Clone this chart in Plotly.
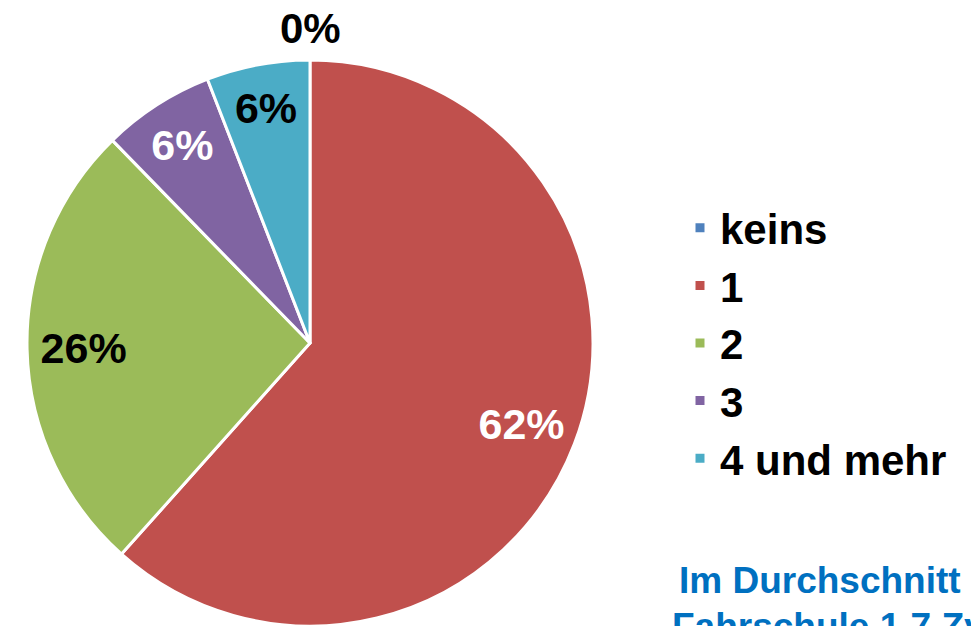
import plotly.graph_objects as go

categories = ["keins", "1", "2", "3", "4 und mehr"]
values = [0, 61.6, 26.1, 6.4, 5.9]
colors = ["#4F81BD", "#C0504D", "#9BBB59", "#8064A2", "#4BACC6"]
text_colors = ["black", "white", "black", "white", "black"]
note_line1 = "Im Durchschnitt"
note_line2 = "Fahrschule 1,7 Zyklen"

W, H = 971, 626
cx, cy, r = 310, 343, 283
dom = dict(x=[(cx - r) / W, (cx + r) / W], y=[0, 2 * r / H])
FONT = "Liberation Sans"

# main pie (slices + legend)
fig = go.Figure(go.Pie(
    labels=categories,
    values=values,
    sort=False,
    direction="clockwise",
    rotation=0,
    marker=dict(colors=colors, line=dict(color="white", width=3)),
    textinfo="none",
    domain=dom,
    hoverinfo="label+percent",
))

# transparent ring overlay that carries the percentage labels further out
fig.add_trace(go.Pie(
    labels=categories,
    values=values,
    sort=False,
    direction="clockwise",
    rotation=0,
    hole=0.6,
    marker=dict(colors=["rgba(0,0,0,0)"] * len(values), line=dict(width=0)),
    texttemplate=["" if v == 0 else "%{percent:.0%}" for v in values],
    textposition="inside",
    insidetextorientation="horizontal",
    textfont=dict(family=FONT, size=43, color=text_colors, weight="bold"),
    domain=dom,
    showlegend=False,
    hoverinfo="skip",
))

total = sum(values)
zero_label = f"{round(values[0] / total * 100)}%"

fig.update_layout(
    width=W, height=H,
    margin=dict(l=0, r=0, t=0, b=0),
    paper_bgcolor="white",
    plot_bgcolor="white",
    font=dict(family=FONT, color="black"),
    uniformtext=dict(minsize=43, mode="show"),
    legend=dict(
        x=680 / W, xanchor="left",
        y=(H - 343) / H, yanchor="middle",
        font=dict(family=FONT, size=42, color="black", weight="bold"),
        bgcolor="rgba(0,0,0,0)",
    ),
    annotations=[
        dict(text="<b>" + zero_label + "</b>", x=cx / W, y=(H - 28) / H,
             xref="paper", yref="paper", xanchor="center", yanchor="middle",
             showarrow=False, font=dict(family=FONT, size=42, color="black")),
        dict(text="<b>" + note_line1 + "</b>", x=820 / W, y=(H - 580) / H,
             xref="paper", yref="paper", xanchor="center", yanchor="middle",
             showarrow=False, font=dict(family=FONT, size=37, color="#0070C0")),
        dict(text="<b>" + note_line2 + "</b>", x=670 / W, y=(H - 626) / H,
             xref="paper", yref="paper", xanchor="left", yanchor="middle",
             showarrow=False, font=dict(family=FONT, size=37, color="#0070C0")),
    ],
)

fig.write_html(
    "out.html",
    config={"displayModeBar": False},
    post_script="document.body.style.margin='0';document.body.style.overflow='hidden';",
)
